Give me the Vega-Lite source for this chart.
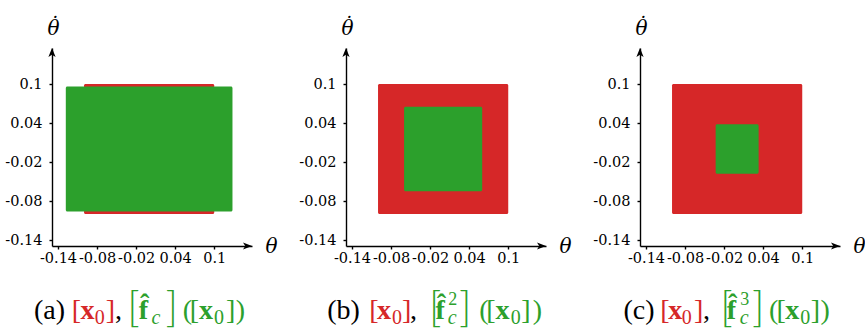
{
  "$schema": "https://vega.github.io/schema/vega-lite/v6.json",
  "padding": {"left": 4, "top": 14, "right": 5, "bottom": 5},
  "background": "white",
  "config": {
    "view": {"stroke": null},
    "axis": {
      "domainColor": "black", "domainWidth": 1.4, "tickColor": "black", "tickWidth": 1.4, "tickSize": 3,
      "labelFont": "DejaVu Serif", "labelFontSize": 14.5, "labelColor": "black", "labelFlush": false,
      "grid": false, "titleFont": "DejaVu Serif", "titleFontStyle": "italic", "titleFontWeight": "normal",
      "titleFontSize": 20, "titleColor": "black"
    }
  },
  "data": {"values": [
    {"p": "a", "k": "box", "col": "r", "x1": -0.1, "x2": 0.1, "y1": -0.1, "y2": 0.1},
    {"p": "a", "k": "box", "col": "g", "x1": -0.128, "x2": 0.128, "y1": -0.096, "y2": 0.096},
    {"p": "b", "k": "box", "col": "r", "x1": -0.1, "x2": 0.1, "y1": -0.1, "y2": 0.1},
    {"p": "b", "k": "box", "col": "g", "x1": -0.06, "x2": 0.06, "y1": -0.065, "y2": 0.065},
    {"p": "c", "k": "box", "col": "r", "x1": -0.1, "x2": 0.1, "y1": -0.1, "y2": 0.1},
    {"p": "c", "k": "box", "col": "g", "x1": -0.033, "x2": 0.033, "y1": -0.038, "y2": 0.038},

    {"p": "a", "k": "n", "col": "k", "t": "(a)", "x": -0.177},
    {"p": "a", "k": "n", "col": "r", "t": "[", "x": -0.119},
    {"p": "a", "k": "b", "col": "r", "t": "x", "x": -0.1055},
    {"p": "a", "k": "s", "col": "r", "t": "0", "x": -0.0835},
    {"p": "a", "k": "n", "col": "r", "t": "]", "x": -0.0665},
    {"p": "a", "k": "n", "col": "k", "t": ",", "x": -0.0525},
    {"p": "a", "k": "B", "col": "g", "t": "[", "x": -0.0335},
    {"p": "a", "k": "b", "col": "g", "t": "f̂", "x": -0.0158},
    {"p": "a", "k": "i", "col": "g", "t": "c", "x": 0.0035},
    {"p": "a", "k": "B", "col": "g", "t": "]", "x": 0.0250},
    {"p": "a", "k": "n", "col": "g", "t": "(", "x": 0.0515},
    {"p": "a", "k": "n", "col": "g", "t": "[", "x": 0.0625},
    {"p": "a", "k": "b", "col": "g", "t": "x", "x": 0.0765},
    {"p": "a", "k": "s", "col": "g", "t": "0", "x": 0.0996},
    {"p": "a", "k": "n", "col": "g", "t": "]", "x": 0.1180},
    {"p": "a", "k": "n", "col": "g", "t": ")", "x": 0.1330},

    {"p": "b", "k": "n", "col": "k", "t": "(b)", "x": -0.178},
    {"p": "b", "k": "n", "col": "r", "t": "[", "x": -0.1133},
    {"p": "b", "k": "b", "col": "r", "t": "x", "x": -0.1015},
    {"p": "b", "k": "s", "col": "r", "t": "0", "x": -0.0784},
    {"p": "b", "k": "n", "col": "r", "t": "]", "x": -0.0630},
    {"p": "b", "k": "n", "col": "k", "t": ",", "x": -0.0509},
    {"p": "b", "k": "B", "col": "g", "t": "[", "x": -0.0217},
    {"p": "b", "k": "b", "col": "g", "t": "f̂", "x": -0.0117},
    {"p": "b", "k": "u", "col": "g", "t": "2", "x": 0.0077},
    {"p": "b", "k": "i", "col": "g", "t": "c", "x": 0.0070},
    {"p": "b", "k": "B", "col": "g", "t": "]", "x": 0.0245},
    {"p": "b", "k": "n", "col": "g", "t": "(", "x": 0.0556},
    {"p": "b", "k": "n", "col": "g", "t": "[", "x": 0.0661},
    {"p": "b", "k": "b", "col": "g", "t": "x", "x": 0.0806},
    {"p": "b", "k": "s", "col": "g", "t": "0", "x": 0.1037},
    {"p": "b", "k": "n", "col": "g", "t": "]", "x": 0.1200},
    {"p": "b", "k": "n", "col": "g", "t": ")", "x": 0.1376},

    {"p": "c", "k": "n", "col": "k", "t": "(c)", "x": -0.1745},
    {"p": "c", "k": "n", "col": "r", "t": "[", "x": -0.1181},
    {"p": "c", "k": "b", "col": "r", "t": "x", "x": -0.1057},
    {"p": "c", "k": "s", "col": "r", "t": "0", "x": -0.0852},
    {"p": "c", "k": "n", "col": "r", "t": "]", "x": -0.0661},
    {"p": "c", "k": "n", "col": "k", "t": ",", "x": -0.0526},
    {"p": "c", "k": "B", "col": "g", "t": "[", "x": -0.0260},
    {"p": "c", "k": "b", "col": "g", "t": "f̂", "x": -0.0160},
    {"p": "c", "k": "u", "col": "g", "t": "3", "x": 0.0046},
    {"p": "c", "k": "i", "col": "g", "t": "c", "x": 0.0040},
    {"p": "c", "k": "B", "col": "g", "t": "]", "x": 0.0228},
    {"p": "c", "k": "n", "col": "g", "t": "(", "x": 0.0488},
    {"p": "c", "k": "n", "col": "g", "t": "[", "x": 0.0604},
    {"p": "c", "k": "b", "col": "g", "t": "x", "x": 0.0739},
    {"p": "c", "k": "s", "col": "g", "t": "0", "x": 0.0970},
    {"p": "c", "k": "n", "col": "g", "t": "]", "x": 0.1132},
    {"p": "c", "k": "n", "col": "g", "t": ")", "x": 0.1282}
  ]},
  "facet": {"column": {"field": "p", "type": "nominal", "header": {"title": null, "labels": false, "labelPadding": 0, "titlePadding": 0}}},
  "spacing": 94,
  "bounds": "flush",
  "resolve": {"axis": {"x": "independent", "y": "independent"}},
  "spec": {
    "width": 200,
    "height": 198,
    "layer": [
      {
        "transform": [{"filter": "datum.k == 'box'"}],
        "mark": {"type": "rect", "cornerRadius": 1.5},
        "encoding": {
          "x": {"field": "x1", "type": "quantitative",
                "scale": {"domain": [-0.1492, 0.158], "nice": false, "zero": false},
                "axis": {"values": [-0.14, -0.08, -0.02, 0.04, 0.1], "labelExpr": "datum.value + ''", "labelOverlap": false,
                         "labelFont": "DejaVu Serif", "labelFontSize": 14.5,
                         "labelPadding": 2, "title": "θ", "titleX": 219, "titleY": 0, "titleBaseline": "middle", "titleAlign": "center"}},
          "x2": {"field": "x2"},
          "y": {"field": "y1", "type": "quantitative",
                "scale": {"domain": [-0.1492, 0.1554], "nice": false, "zero": false},
                "axis": {"values": [-0.14, -0.08, -0.02, 0.04, 0.1], "labelExpr": "datum.value + ''", "labelOverlap": false,
                         "labelFont": "DejaVu Serif", "labelFontSize": 14.5,
                         "labelPadding": 7, "title": ["˙", "θ"], "titleLineHeight": 4, "titleAngle": 0, "titleX": 1, "titleY": -18, "titleAlign": "center", "titleBaseline": "alphabetic"}},
          "y2": {"field": "y2"},
          "color": {"field": "col", "type": "nominal", "scale": {"domain": ["k", "r", "g"], "range": ["#000000", "#d62728", "#2ca02c"]}, "legend": null}
        }
      },
      {
        "transform": [{"filter": "datum.k == 'box' && datum.col == 'r'"}],
        "mark": {"type": "point", "shape": "M0,0L-1,-0.4L-0.75,0L-1,0.4Z", "size": 324, "filled": true, "color": "black", "opacity": 1, "strokeWidth": 0},
        "encoding": {"x": {"datum": 0.158}, "y": {"datum": -0.1492}}
      },
      {
        "transform": [{"filter": "datum.k == 'box' && datum.col == 'r'"}],
        "mark": {"type": "point", "shape": "M0,0L-0.4,1L0,0.75L0.4,1Z", "size": 324, "filled": true, "color": "black", "opacity": 1, "strokeWidth": 0},
        "encoding": {"x": {"datum": -0.1492}, "y": {"datum": 0.1554}}
      },
      {
        "transform": [{"filter": "datum.k == 'n'"}],
        "mark": {"type": "text", "align": "left", "baseline": "alphabetic", "font": "Liberation Serif", "fontSize": 28},
        "encoding": {
          "x": {"field": "x", "type": "quantitative"}, "y": {"datum": -0.2615}, "text": {"field": "t"},
          "color": {"field": "col", "type": "nominal", "scale": {"domain": ["k", "r", "g"], "range": ["#000000", "#d62728", "#2ca02c"]}, "legend": null}
        }
      },
      {
        "transform": [{"filter": "datum.k == 'b'"}],
        "mark": {"type": "text", "align": "left", "baseline": "alphabetic", "font": "Liberation Serif", "fontSize": 28, "fontWeight": "bold"},
        "encoding": {
          "x": {"field": "x", "type": "quantitative"}, "y": {"datum": -0.2615}, "text": {"field": "t"},
          "color": {"field": "col", "type": "nominal", "scale": {"domain": ["k", "r", "g"], "range": ["#000000", "#d62728", "#2ca02c"]}, "legend": null}
        }
      },
      {
        "transform": [{"filter": "datum.k == 's'"}],
        "mark": {"type": "text", "align": "left", "baseline": "alphabetic", "font": "Liberation Serif", "fontSize": 20, "dy": 5},
        "encoding": {
          "x": {"field": "x", "type": "quantitative"}, "y": {"datum": -0.2615}, "text": {"field": "t"},
          "color": {"field": "col", "type": "nominal", "scale": {"domain": ["k", "r", "g"], "range": ["#000000", "#d62728", "#2ca02c"]}, "legend": null}
        }
      },
      {
        "transform": [{"filter": "datum.k == 'i'"}],
        "mark": {"type": "text", "align": "left", "baseline": "alphabetic", "font": "Liberation Serif", "fontSize": 20, "fontStyle": "italic", "dy": 5.5},
        "encoding": {
          "x": {"field": "x", "type": "quantitative"}, "y": {"datum": -0.2615}, "text": {"field": "t"},
          "color": {"field": "col", "type": "nominal", "scale": {"domain": ["k", "r", "g"], "range": ["#000000", "#d62728", "#2ca02c"]}, "legend": null}
        }
      },
      {
        "transform": [{"filter": "datum.k == 'u'"}],
        "mark": {"type": "text", "align": "left", "baseline": "alphabetic", "font": "Liberation Serif", "fontSize": 18, "dy": -14},
        "encoding": {
          "x": {"field": "x", "type": "quantitative"}, "y": {"datum": -0.2615}, "text": {"field": "t"},
          "color": {"field": "col", "type": "nominal", "scale": {"domain": ["k", "r", "g"], "range": ["#000000", "#d62728", "#2ca02c"]}, "legend": null}
        }
      },
      {
        "transform": [{"filter": "datum.k == 'B'"}],
        "mark": {"type": "text", "align": "left", "baseline": "alphabetic", "font": "Lato", "fontWeight": 300, "fontSize": 42, "dy": 3},
        "encoding": {
          "x": {"field": "x", "type": "quantitative"}, "y": {"datum": -0.2615}, "text": {"field": "t"},
          "color": {"field": "col", "type": "nominal", "scale": {"domain": ["k", "r", "g"], "range": ["#000000", "#d62728", "#2ca02c"]}, "legend": null}
        }
      }
    ]
  }
}
